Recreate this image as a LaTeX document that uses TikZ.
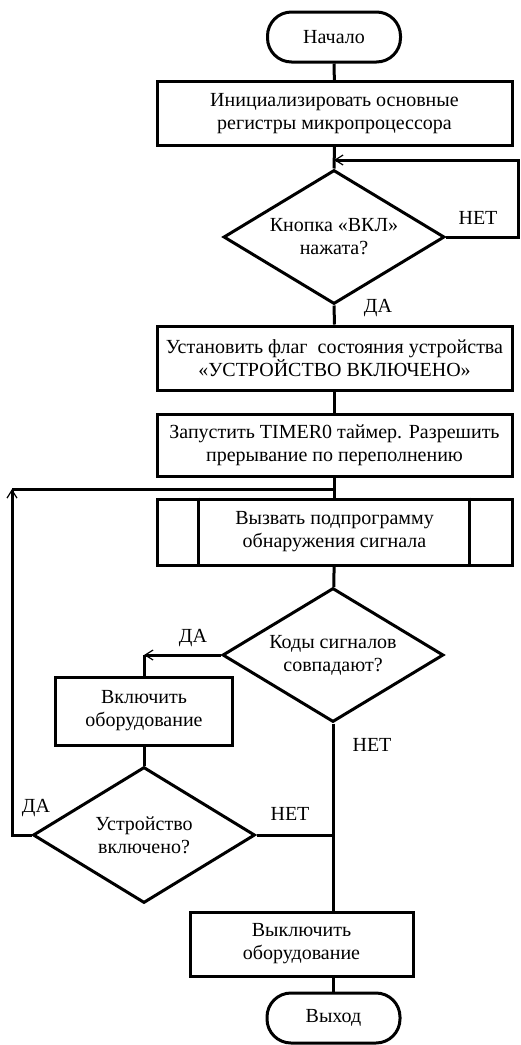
\documentclass[tikz,border=0pt]{standalone}
\usepackage{fontspec}
\setmainfont{Liberation Serif}
\usetikzlibrary{arrows.meta,positioning,calc,shapes.geometric}

\begin{document}
\begin{tikzpicture}[
    x=0.5pt, y=-0.5pt,
    line width=1.5pt,
    font=\fontsize{10}{11.5}\selectfont,
    terminal/.style={
        draw,
        rounded corners=12pt,
        align=center,
        minimum width=66.5pt,
        minimum height=25pt,
        inner sep=2pt
    },
    box/.style={
        draw,
        align=center,
        minimum width=177.5pt,
        minimum height=32pt,
        inner sep=3pt
    },
    smallbox/.style={
        draw,
        align=center,
        minimum width=88.5pt,
        minimum height=34pt,
        inner sep=3pt
    },
    decision/.style={
        draw,
        diamond,
        aspect=1.65,
        align=center,
        inner sep=0pt,
        minimum width=110.5pt,
        minimum height=67pt
    },
    lbl/.style={inner sep=1pt},
    arrow/.style={-{Straight Barb[length=4pt,width=5pt,line width=0.6pt]}}
]

\useasboundingbox (0,0) rectangle (520,1045);

% Start and initialisation
\node[terminal] (start) at (334,37) {Начало};
\node[box] (init) at (334.5,113.5) {Инициализировать основные\\регистры микропроцессора};

% Wait for the power button
\node[decision] (q1) at (334,237) {Кнопка «ВКЛ»\\нажата?};
\coordinate (loopin) at (334,160);
\coordinate (rloop) at (518,160);

\draw (start) -- (init);
\draw (init.south) -- (q1.north);
\draw[arrow] (q1.east) -- (rloop |- q1.east) -- (rloop) -- (loopin);
\node[lbl] (no1) at (478,218) {НЕТ};

% Set flag and start timer
\node[box, minimum height=32pt] (flag) at (334.5,358) {Установить флаг\ \ состояния устройства\\«УСТРОЙСТВО ВКЛЮЧЕНО»};
\node[box, minimum height=31pt] (timer) at (334.5,445) {Запустить TIMER0 таймер. Разрешить\\прерывание по переполнению};
\node[box, minimum height=33pt] (sub) at (334.5,532) {Вызвать подпрограмму\\обнаружения сигнала};
\draw ([xshift=21.5pt]sub.north west) -- ([xshift=21.5pt]sub.south west);
\draw ([xshift=-22pt]sub.north east) -- ([xshift=-22pt]sub.south east);

\draw (q1.south) -- (flag.north);
\node[lbl] (yes1) at (378,308) {ДА};
\draw (flag) -- (timer);
\draw (timer) -- (sub);

% Compare signal codes
\node[decision] (q2) at (333,655) {Коды сигналов\\совпадают?};
\node[smallbox] (on) at (144,711) {Включить\\оборудование};
\node[decision, minimum width=111pt, minimum height=68pt] (q3) at (144,835) {Устройство\\включено?};
\coordinate (lcorner) at (12,489);
\coordinate (rejoin) at (334,489);

\draw (sub) -- (q2);
\draw[arrow] (q2.west) -- (q2.west -| on.north) coordinate (oncorner);
\draw (oncorner) -- (on.north);
\node[lbl] (yes2) at (193,638) {ДА};
\draw (on) -- (q3);

% Back to signal detection
\draw[arrow] (q3.west) -| (lcorner);
\draw (lcorner) -- (rejoin);
\node[lbl] (yes3) at (36,808) {ДА};

% Switch off and exit
\node[box, minimum width=111.5pt, minimum height=32pt] (off) at (301.5,944) {Выключить\\оборудование};
\node[terminal] (exit) at (333.5,1018) {Выход};

\draw (q2.south) -- (q2.south |- off.north);
\draw (q3.east) -- (q3.east -| q2.south);
\node[lbl] (no2) at (372,745) {НЕТ};
\node[lbl] (no3) at (290,814) {НЕТ};
\draw (off.south -| exit.north) -- (exit.north);

\end{tikzpicture}
\end{document}
